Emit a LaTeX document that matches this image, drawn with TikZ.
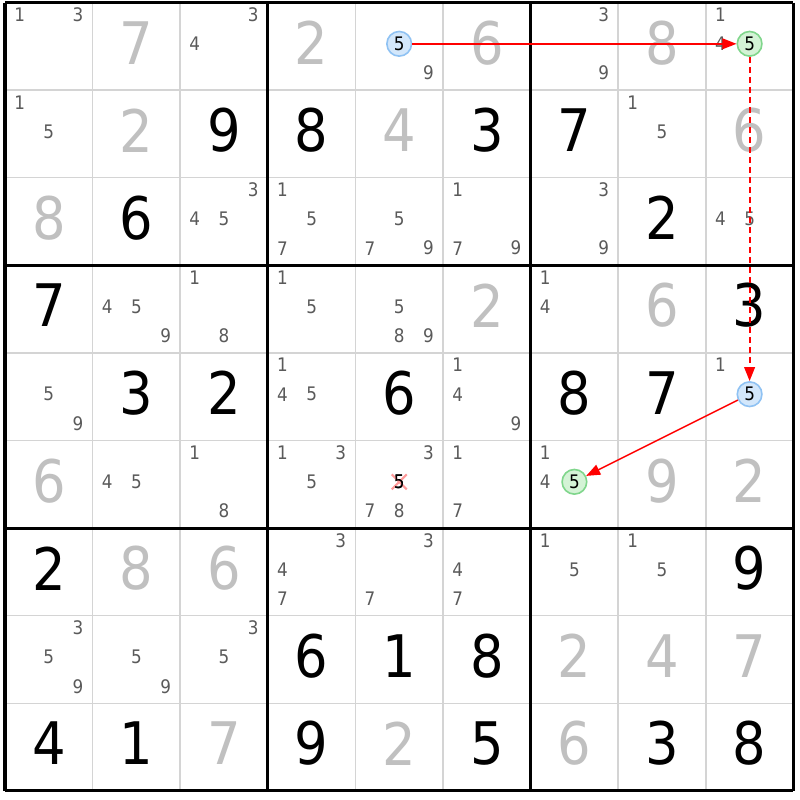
\documentclass[tikz,border=0pt]{standalone}
\usepackage{fontspec}
\setmainfont{DejaVu Sans}[FakeStretch=0.9]
\usetikzlibrary{arrows.meta}
\definecolor{candgray}{HTML}{5A5A5A}
\definecolor{solvedgray}{HTML}{C0C0C0}
\definecolor{gridgray}{HTML}{D4D4D4}
\definecolor{hlblue}{HTML}{D3E7FB}
\definecolor{hlblueb}{HTML}{8FC2F3}
\definecolor{hlgreen}{HTML}{D4F3D6}
\definecolor{hlgreenb}{HTML}{80D68C}
\definecolor{xpink}{HTML}{FF9A9A}
\definecolor{arrowred}{HTML}{FF0000}
\newcommand\cand[3]{%
  \pgfmathsetmacro\cx{5+87.6*(#2-1)+14.6*(2*mod(#3-1,3)+1)}%
  \pgfmathsetmacro\cy{2.5+87.6*(#1-1)+14.6*(2*int((#3-1)/3)+1)-2.5}%
  \node[candtext] (k#1#2#3) at (\cx,\cy) {#3};}
\newcommand\cands[3]{\foreach \dd in {#3}{\cand{#1}{#2}{\dd}}}
\newcommand\bigd[4]{%
  \pgfmathsetmacro\cx{5+87.6*(#2-1)+43.8}%
  \pgfmathsetmacro\cy{2.5+87.6*(#1-1)+43.8-3.5}%
  \node[#4] (d#1#2) at (\cx,\cy) {#3};}
\newcommand\hcand[5]{%
  \pgfmathsetmacro\cx{5+87.6*(#2-1)+14.6*(2*mod(#3-1,3)+1)}%
  \pgfmathsetmacro\cy{2.5+87.6*(#1-1)+14.6*(2*int((#3-1)/3)+1)-2.5}%
  \node[#4] (#5) at (\cx,\cy) {#3};}
\begin{document}
\begin{tikzpicture}[x=0.75pt,y=-0.75pt,
  candtext/.style={inner sep=0pt,text=candgray,font=\fontsize{14}{14}\selectfont},
  givendigit/.style={inner sep=0pt,text=black,font=\fontsize{44}{44}\selectfont},
  solveddigit/.style={inner sep=0pt,text=solvedgray,font=\fontsize{44}{44}\selectfont},
  hlb/.style={circle,inner sep=0pt,minimum size=18.5pt,draw=hlblueb,fill=hlblue,line width=1.2pt,text=black,font=\fontsize{14}{14}\selectfont},
  hlg/.style={circle,inner sep=0pt,minimum size=18.5pt,draw=hlgreenb,fill=hlgreen,line width=1.2pt,text=black,font=\fontsize{14}{14}\selectfont},
  thingrid/.style={draw=gridgray,line width=1.1pt},
  thickgrid/.style={draw=black,line width=2.3pt},
  redarrow/.style={draw=arrowred,line width=1.15pt,-{Triangle[length=10.5pt,width=8pt,fill=arrowred]}},
  redx/.style={draw=xpink,line width=1.6pt}]
\fill[white] (0,0) rectangle (800,800);
\useasboundingbox (0,0) rectangle (800,800);
% grid
\foreach \i in {1,2,4,5,7,8}{
  \draw[thingrid] ({5+87.6*\i},2.5) -- ({5+87.6*\i},790.9);
  \draw[thingrid] (5,{2.5+87.6*\i}) -- (793.4,{2.5+87.6*\i});
}
\foreach \i in {0,3,6,9}{
  \draw[thickgrid] ({5+87.6*\i},2.5) -- ({5+87.6*\i},790.9);
  \draw[thickgrid] (5,{2.5+87.6*\i}) -- (793.4,{2.5+87.6*\i});
}
% row 1
\cands{1}{1}{1,3}
\bigd{1}{2}{7}{solveddigit}
\cands{1}{3}{3,4}
\bigd{1}{4}{2}{solveddigit}
\cands{1}{5}{9}
\hcand{1}{5}{5}{hlb}{h1}
\bigd{1}{6}{6}{solveddigit}
\cands{1}{7}{3,9}
\bigd{1}{8}{8}{solveddigit}
\cands{1}{9}{1,4}
% row 2
\cands{2}{1}{1,5}
\bigd{2}{2}{2}{solveddigit}
\bigd{2}{3}{9}{givendigit}
\bigd{2}{4}{8}{givendigit}
\bigd{2}{5}{4}{solveddigit}
\bigd{2}{6}{3}{givendigit}
\bigd{2}{7}{7}{givendigit}
\cands{2}{8}{1,5}
\bigd{2}{9}{6}{solveddigit}
% row 3
\bigd{3}{1}{8}{solveddigit}
\bigd{3}{2}{6}{givendigit}
\cands{3}{3}{3,4,5}
\cands{3}{4}{1,5,7}
\cands{3}{5}{5,7,9}
\cands{3}{6}{1,7,9}
\cands{3}{7}{3,9}
\bigd{3}{8}{2}{givendigit}
\cands{3}{9}{4,5}
% row 4
\bigd{4}{1}{7}{givendigit}
\cands{4}{2}{4,5,9}
\cands{4}{3}{1,8}
\cands{4}{4}{1,5}
\cands{4}{5}{5,8,9}
\bigd{4}{6}{2}{solveddigit}
\cands{4}{7}{1,4}
\bigd{4}{8}{6}{solveddigit}
\bigd{4}{9}{3}{givendigit}
% row 5
\cands{5}{1}{5,9}
\bigd{5}{2}{3}{givendigit}
\bigd{5}{3}{2}{givendigit}
\cands{5}{4}{1,4,5}
\bigd{5}{5}{6}{givendigit}
\cands{5}{6}{1,4,9}
\bigd{5}{7}{8}{givendigit}
\bigd{5}{8}{7}{givendigit}
\cands{5}{9}{1}
% row 6
\bigd{6}{1}{6}{solveddigit}
\cands{6}{2}{4,5}
\cands{6}{3}{1,8}
\cands{6}{4}{1,3,5}
\cands{6}{5}{3,7,8}
\hcand{6}{5}{5}{candtext,text=black}{x65}
\cands{6}{6}{1,7}
\cands{6}{7}{1,4}
\bigd{6}{8}{9}{solveddigit}
\bigd{6}{9}{2}{solveddigit}
% row 7
\bigd{7}{1}{2}{givendigit}
\bigd{7}{2}{8}{solveddigit}
\bigd{7}{3}{6}{solveddigit}
\cands{7}{4}{3,4,7}
\cands{7}{5}{3,7}
\cands{7}{6}{4,7}
\cands{7}{7}{1,5}
\cands{7}{8}{1,5}
\bigd{7}{9}{9}{givendigit}
% row 8
\cands{8}{1}{3,5,9}
\cands{8}{2}{5,9}
\cands{8}{3}{3,5}
\bigd{8}{4}{6}{givendigit}
\bigd{8}{5}{1}{givendigit}
\bigd{8}{6}{8}{givendigit}
\bigd{8}{7}{2}{solveddigit}
\bigd{8}{8}{4}{solveddigit}
\bigd{8}{9}{7}{solveddigit}
% row 9
\bigd{9}{1}{4}{givendigit}
\bigd{9}{2}{1}{givendigit}
\bigd{9}{3}{7}{solveddigit}
\bigd{9}{4}{9}{givendigit}
\bigd{9}{5}{2}{solveddigit}
\bigd{9}{6}{5}{givendigit}
\bigd{9}{7}{6}{solveddigit}
\bigd{9}{8}{3}{givendigit}
\bigd{9}{9}{8}{givendigit}
% crossed-out candidate
\draw[redx] ([shift={(-7.5,-7.5)}]x65.center) -- ([shift={(7.5,7.5)}]x65.center);
\draw[redx] ([shift={(-7.5,7.5)}]x65.center) -- ([shift={(7.5,-7.5)}]x65.center);
\node[candtext,text=black] (x65b) at (x65) {5};
% highlighted candidates (chain)
\hcand{1}{9}{5}{hlg}{h2}
\hcand{5}{9}{5}{hlb}{h3}
\hcand{6}{7}{5}{hlg}{h4}
\draw[redarrow] (h1) -- (h2);
\draw[redarrow,line width=1.4pt,dash pattern=on 4.5pt off 3pt] (h2) -- (h3);
\draw[redarrow] (h3) -- (h4);
\end{tikzpicture}
\end{document}
